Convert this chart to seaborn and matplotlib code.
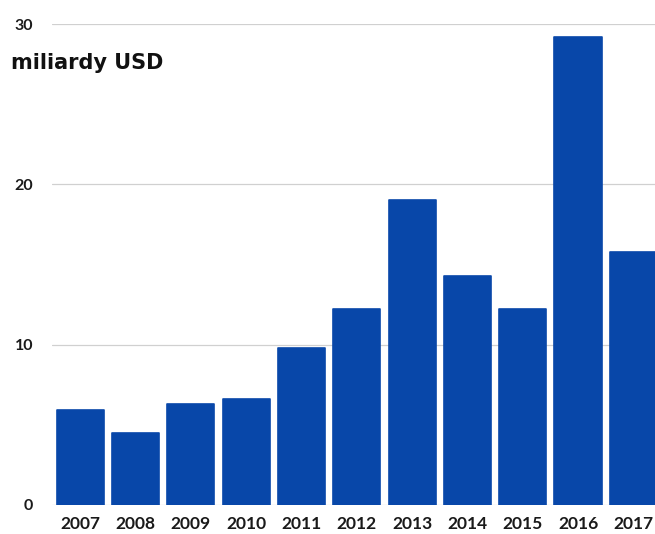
import matplotlib
matplotlib.use("Agg")
import matplotlib.pyplot as plt
import seaborn as sns
import pandas as pd

years = ['2007', '2008', '2009', '2010', '2011', '2012',
         '2013', '2014', '2015', '2016', '2017']
values = [5.9, 4.5, 6.3, 6.6, 9.8, 12.2, 19.0, 14.3, 12.2, 29.2, 15.8]
y_ticks = [0, 10, 20, 30]
unit_label = 'miliardy USD'

df = pd.DataFrame({'Rok': years, 'Hodnota': values})

sns.set_style('white')
plt.rcParams['font.family'] = ['Lato', 'DejaVu Sans']

fig = plt.figure(figsize=(6.55, 5.34), dpi=100)
ax = fig.add_axes([52.4 / 655, 29 / 534, 608.6 / 655, 481 / 534])

sns.barplot(data=df, x='Rok', y='Hodnota', color='#0847A9', saturation=1,
            width=0.85, ax=ax, zorder=3,
            edgecolor='#0847A9', linewidth=1.2)
for p in ax.patches:
    p.set_joinstyle('round')

ax.set_ylim(0, 30)
ax.set_yticks(y_ticks)
ax.yaxis.grid(True, color='#d0d0d0', linewidth=0.9, zorder=0)
ax.set_xlabel('')
ax.set_ylabel('')
sns.despine(ax=ax, left=True, bottom=True, top=True, right=True)
ax.tick_params(axis='x', length=0, pad=8, labelsize=12.5)
ax.tick_params(axis='y', length=0, pad=14, labelsize=11.5)
for lbl in ax.get_xticklabels() + ax.get_yticklabels():
    lbl.set_fontweight('bold')
    lbl.set_color('#1a1a1a')

# the unit label is wide and heavy in the original, DejaVu Sans Bold fits it best
fig.text(11 / 655, 1 - 63 / 534, unit_label, fontsize=15, fontweight='bold',
         family='DejaVu Sans', color='#111111', va='center', ha='left')

fig.savefig('out.png', dpi=100, facecolor='white')
